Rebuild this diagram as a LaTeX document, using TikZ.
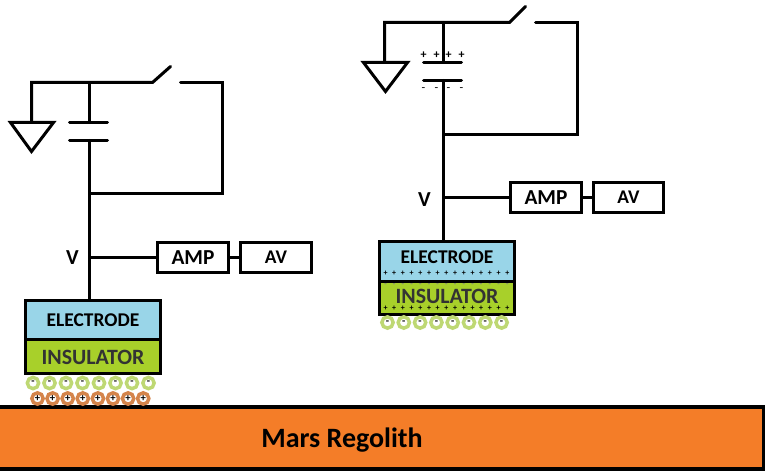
\documentclass[tikz,border=0pt]{standalone}
\usepackage{fontspec}
\setmainfont{Carlito}
\usepackage{tikz}
\definecolor{elecblue}{RGB}{153,213,232}
\definecolor{insgreen}{RGB}{168,208,42}
\definecolor{regolith}{RGB}{244,125,40}
\definecolor{ringgreen}{RGB}{190,216,115}
\definecolor{ringbrown}{RGB}{212,132,75}
\tikzstyle{box}=[draw=black, line width=2.25pt, minimum height=22pt, inner sep=0pt, font=\bfseries\fontsize{16}{16}\selectfont]
\tikzstyle{electrode}=[box, fill=elecblue, minimum width=101pt, minimum height=29pt, font=\bfseries\fontsize{14.6}{14.6}\selectfont]
\tikzstyle{insulator}=[box, fill=insgreen, minimum width=101pt, minimum height=25.5pt, font=\bfseries\fontsize{16.4}{16.4}\selectfont, text=black!80]
\tikzstyle{wire}=[line width=2.25pt, line cap=round, line join=miter]
\tikzstyle{minus}=[circle, draw=ringgreen, fill=white, line width=2.6pt, minimum size=8.5pt, inner sep=0pt, font=\bfseries\fontsize{8}{8}\selectfont]
\tikzstyle{plus}=[circle, draw=ringbrown, fill=white, line width=2.6pt, minimum size=8.5pt, inner sep=0pt, font=\bfseries\fontsize{8}{8}\selectfont]
\tikzstyle{charge}=[inner sep=0pt, font=\bfseries\fontsize{6}{6}\selectfont]
\begin{document}
\begin{tikzpicture}[x=0.75pt, y=-0.75pt]
	\useasboundingbox (0, 0) rectangle (765, 474);
	% surface
	\node (regolith) at (381, 438)[draw=black, line width=3pt, fill=regolith, minimum width=574pt, minimum height=47pt, inner sep=0pt] {};
	\node (regolithtext) at (342, 440)[charge, font=\bfseries\fontsize{21}{21}\selectfont] {Mars Regolith};
	% left circuit
	\begin{scope}[shift={(0.5, 0.5)}]
		\coordinate (lcorner) at (31, 82);
		\coordinate (ltop) at (89, 82);
		\coordinate (lhinge) at (152, 82);
		\coordinate (lblade) at (170, 66);
		\coordinate (lcontact) at (180, 82);
		\coordinate (lright) at (222, 82);
		\coordinate (lreturn) at (222, 193);
		\coordinate (ljoin) at (89, 193);
		\coordinate (lgndtop) at (31, 122);
		\coordinate (lgnda) at (10, 122);
		\coordinate (lgndb) at (53, 122);
		\coordinate (lgndc) at (31, 151);
		\coordinate (lplateup) at (89, 122);
		\coordinate (lplatedown) at (89, 140);
		\coordinate (lupa) at (69, 122);
		\coordinate (lupb) at (107, 122);
		\coordinate (lloa) at (69, 140);
		\coordinate (llob) at (107, 140);
		\coordinate (ltap) at (89, 257);
		\node (lv) at (72, 257)[charge, font=\bfseries\fontsize{16}{16}\selectfont] {V};
		\node (lamp) at (192.5, 257)[box, minimum width=53pt] {AMP};
		\node (lav) at (275.5, 257)[box, minimum width=53pt, font=\bfseries\fontsize{14.5}{14.5}\selectfont] {AV};
		\node (lelec) at (92.5, 319.5)[electrode] {ELECTRODE};
		\node (lins) at (92.5, 356.5)[insulator] {INSULATOR};
		\foreach \i in {0,...,7} {
			\node (lminus\i) at (32.5+16.5*\i, 382.5)[minus] {-};
		}
		\foreach \i in {0,...,7} {
			\node (lplus\i) at (37+15.1*\i, 398)[plus] {+};
		}
	\end{scope}
	\begin{scope}
		\draw [wire] (lgndtop) -- (lcorner) -- (lhinge) -- (lblade);
		\draw [wire] (lcontact) -- (lright) -- (lreturn) -- (ljoin);
		\draw [wire] (lgnda) -- (lgndb) -- (lgndc) -- cycle;
		\draw [wire] (ltop) -- (lplateup);
		\draw [wire] (lupa) -- (lupb);
		\draw [wire] (lloa) -- (llob);
		\draw [wire] (lplatedown) -- (ltap |- lelec.north);
		\draw [wire] (ltap) -- (lamp.west);
		\draw [wire] (lamp.east) -- (lav.west);
	\end{scope}
	% right circuit
	\begin{scope}[shift={(0.5, 0.5)}]
		\coordinate (rcorner) at (384, 22);
		\coordinate (rtop) at (443, 22);
		\coordinate (rhinge) at (509, 22);
		\coordinate (rblade) at (525, 6);
		\coordinate (rcontact) at (535, 22);
		\coordinate (rright) at (577, 22);
		\coordinate (rreturn) at (577, 134);
		\coordinate (rjoin) at (443, 134);
		\coordinate (rgndtop) at (384, 62);
		\coordinate (rgnda) at (363, 62);
		\coordinate (rgndb) at (407, 62);
		\coordinate (rgndc) at (385, 91);
		\coordinate (rplateup) at (443, 62);
		\coordinate (rplatedown) at (443, 80);
		\coordinate (rupa) at (423, 62);
		\coordinate (rupb) at (461, 62);
		\coordinate (rloa) at (423, 80);
		\coordinate (rlob) at (461, 80);
		\coordinate (rtap) at (443, 197);
		\node (rv) at (424, 199)[charge, font=\bfseries\fontsize{16}{16}\selectfont] {V};
		\node (ramp) at (545.5, 197)[box, minimum width=53pt] {AMP};
		\node (rav) at (628, 197)[box, minimum width=53pt, font=\bfseries\fontsize{14.5}{14.5}\selectfont] {AV};
		\node (relec) at (446.5, 261)[electrode, minimum height=30pt] {};
		\node (relectext) at (446.5, 257)[charge, font=\bfseries\fontsize{14.6}{14.6}\selectfont] {ELECTRODE};
		\node (rins) at (446.5, 297.5)[insulator, minimum height=25pt] {};
		\node (rinstext) at (446.5, 295.5)[charge, font=\bfseries\fontsize{16.4}{16.4}\selectfont, text=black!80] {INSULATOR};
		\foreach \i in {0,...,14} {
			\node (rpe\i) at (385+8.7*\i, 272.5)[charge] {+};
			\node (rpi\i) at (385+8.7*\i, 308)[charge] {+};
			\node (rmi\i) at (385+8.7*\i, 284.5)[charge, text=black!50] {-};
		}
		\foreach \i in {0,...,7} {
			\node (rminus\i) at (387+16.3*\i, 322)[minus] {-};
		}
		\foreach \i/\x in {0/423, 1/436, 2/448, 3/461} {
			\node (rcp\i) at (\x, 55)[charge, font=\bfseries\fontsize{9}{9}\selectfont] {+};
			\node (rcm\i) at (\x, 89)[charge, font=\fontsize{9}{9}\selectfont] {-};
		}
	\end{scope}
	\begin{scope}
		\draw [wire] (rgndtop) -- (rcorner) -- (rhinge) -- (rblade);
		\draw [wire] (rcontact) -- (rright) -- (rreturn) -- (rjoin);
		\draw [wire] (rgnda) -- (rgndb) -- (rgndc) -- cycle;
		\draw [wire] (rtop) -- (rplateup);
		\draw [wire] (rupa) -- (rupb);
		\draw [wire] (rloa) -- (rlob);
		\draw [wire] (rplatedown) -- (rtap |- relec.north);
		\draw [wire] (rtap) -- (ramp.west);
		\draw [wire] (ramp.east) -- (rav.west);
	\end{scope}
\end{tikzpicture}
\end{document}
